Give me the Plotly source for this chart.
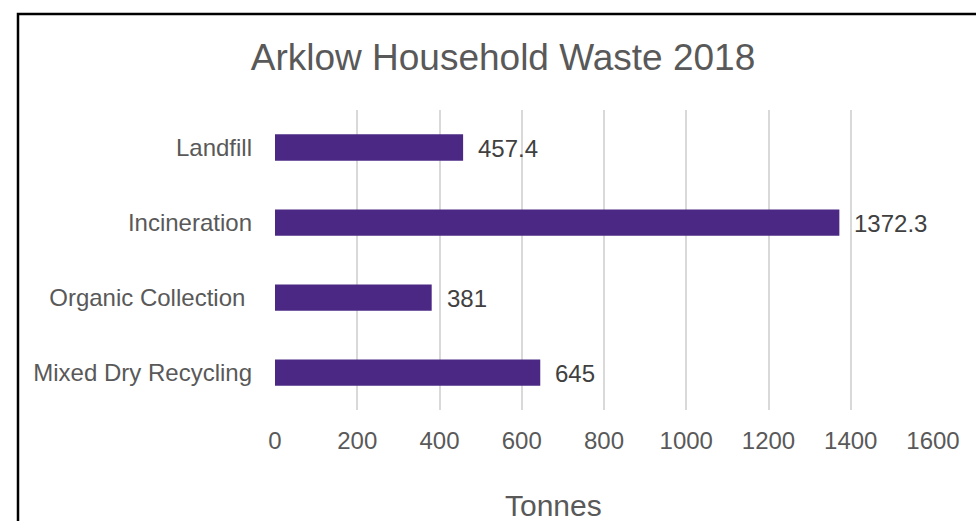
import plotly.graph_objects as go

# Household waste by stream, tonnes (top to bottom as listed)
categories = ["Landfill", "Incineration", "Organic Collection\u00a0", "Mixed Dry Recycling"]
tonnes = [457.4, 1372.3, 381, 645]
value_labels = ["457.4", "1372.3", "381", "645"]
x_ticks = [0, 200, 400, 600, 800, 1000, 1200, 1400, 1600]

BAR_COLOR = "#4b2884"
TEXT_GRAY = "#595959"
FONT = "Liberation Sans, Arial, sans-serif"

W, H = 976, 521

fig = go.Figure()
fig.add_trace(go.Bar(
    y=categories,
    x=tonnes,
    orientation="h",
    marker=dict(color=BAR_COLOR, line=dict(width=0)),
    width=0.35,
    hoverinfo="x+y",
))

# value labels just past each bar end
for cat, val, lab in zip(categories, tonnes, value_labels):
    fig.add_annotation(
        x=val, y=cat, text=lab, showarrow=False,
        xanchor="left", yanchor="middle", xshift=13, yshift=-1,
        font=dict(family=FONT, size=24, color="#404040"),
    )

# axis title, placed relative to the whole chart frame
fig.add_annotation(
    xref="paper", yref="paper",
    x=(553 - 275) / 658, y=-(505 - 410) / 300,
    text="Tonnes", showarrow=False,
    xanchor="center", yanchor="middle",
    font=dict(family=FONT, size=30, color=TEXT_GRAY),
)

# outer black frame around the chart area
fig.add_shape(
    type="rect", xref="paper", yref="paper",
    x0=(18 - 275) / 658, x1=1.2, y0=-0.6, y1=(410 - 14) / 300,
    line=dict(color="black", width=2.5), fillcolor="rgba(0,0,0,0)",
    layer="below",
)

fig.update_layout(
    width=W, height=H,
    margin=dict(l=275, r=43, t=110, b=111),
    paper_bgcolor="white", plot_bgcolor="white",
    showlegend=False,
    title=dict(
        text="Arklow Household Waste 2018",
        x=503 / W, xref="container", xanchor="center",
        y=1 - 57 / H, yref="container", yanchor="middle",
        font=dict(family=FONT, size=37, color=TEXT_GRAY),
    ),
    font=dict(family=FONT, color=TEXT_GRAY),
)

fig.update_xaxes(
    range=[0, 1600],
    tickvals=x_ticks,
    ticktext=[str(t) for t in x_ticks],
    showgrid=True, gridcolor="#d9d9d9", gridwidth=1.5,
    zeroline=False, showline=False,
    ticks="", ticklabelstandoff=14,
    tickfont=dict(family=FONT, size=24, color=TEXT_GRAY),
    fixedrange=True,
)
fig.update_yaxes(
    categoryorder="array",
    categoryarray=list(reversed(categories)),
    showgrid=False, zeroline=False, showline=False,
    ticks="", ticklabelstandoff=22,
    tickfont=dict(family=FONT, size=24, color=TEXT_GRAY),
    fixedrange=True,
)

fig.write_html("out.html")
